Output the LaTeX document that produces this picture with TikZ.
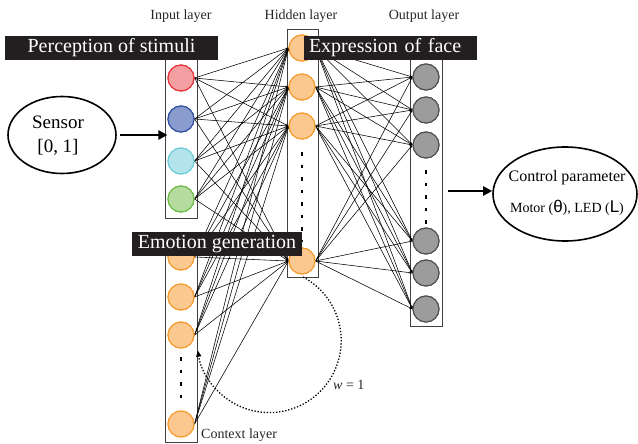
\documentclass[tikz,border=0pt]{standalone}
\usepackage{fontspec}
\setmainfont{Liberation Serif}
\newfontfamily\symsans{Liberation Sans}
\usetikzlibrary{arrows.meta,shapes.geometric}
\definecolor{bannerbg}{HTML}{231F20}
\definecolor{redF}{HTML}{F4A0A3}\definecolor{redD}{HTML}{E53239}
\definecolor{bluF}{HTML}{8A9CCE}\definecolor{bluD}{HTML}{2E50A2}
\definecolor{cyaF}{HTML}{B3E4EB}\definecolor{cyaD}{HTML}{6FCDDA}
\definecolor{greF}{HTML}{B5DC9E}\definecolor{greD}{HTML}{6CBB47}
\definecolor{oraF}{HTML}{FBC990}\definecolor{oraD}{HTML}{F59B2E}
\definecolor{graF}{HTML}{9C9C9C}\definecolor{graD}{HTML}{505050}
\tikzset{
  neuron/.style={circle, minimum size=26pt, inner sep=0pt, line width=1.1pt},
  layerbox/.style={draw=black!75, line width=0.8pt},
  conn/.style={line width=0.55pt, black, -{Stealth[length=3pt,width=2.4pt]}},
  banner/.style={fill=bannerbg, text=white, inner sep=0pt, font=\fontsize{20}{22}\selectfont},
  lbl/.style={text=black!85, font=\fontsize{14}{16}\selectfont, inner sep=0pt},
  vdots/.style={line width=2pt, dash pattern=on 3.5pt off 9pt},
  bigarrow/.style={line width=2.4pt, -{Triangle[length=9pt,width=9pt]}},
  recur/.style={line width=1.3pt, dash pattern=on 1.3pt off 1.8pt, -{Triangle[length=6pt,width=5pt]}}
}
\begin{document}
\begin{tikzpicture}[x=1pt,y=-1pt]
\useasboundingbox (0,0) rectangle (638,444);
% layer boxes
\draw[layerbox] (165,50) rectangle (197,218);
\draw[layerbox] (165,240) rectangle (197,442);
\draw[layerbox] (287,29) rectangle (318,277);
\draw[layerbox] (410,50) rectangle (442,326);
% neurons
\node[neuron, fill=redF, draw=redD] (i1) at (181,78) {};
\node[neuron, fill=bluF, draw=bluD] (i2) at (181,119) {};
\node[neuron, fill=cyaF, draw=cyaD] (i3) at (181,161) {};
\node[neuron, fill=greF, draw=greD] (i4) at (181,199) {};
\foreach \n/\y in {1/257,2/297,3/335,4/424}
  \node[neuron, fill=oraF, draw=oraD] (c\n) at (181,\y) {};
\foreach \n/\y in {1/48,2/87,3/126,4/261}
  \node[neuron, fill=oraF, draw=oraD] (h\n) at (302,\y) {};
\foreach \n/\y in {1/77,2/110,3/145,4/241,5/273,6/309}
  \node[neuron, fill=graF, draw=graD] (o\n) at (426,\y) {};
% connections
\foreach \s in {i1,i2,i3,i4,c1,c2,c3,c4}
  \foreach \t in {h1,h2,h3,h4}
    \draw[conn] (\s.east) -- (\t.west);
\foreach \s in {h1,h2,h3,h4}
  \foreach \t in {o1,o2,o3,o4,o5,o6}
    \draw[conn] (\s.east) -- (\t.west);
% redraw neurons on top
\node[neuron, fill=redF, draw=redD] at (i1) {};
\node[neuron, fill=bluF, draw=bluD] at (i2) {};
\node[neuron, fill=cyaF, draw=cyaD] at (i3) {};
\node[neuron, fill=greF, draw=greD] at (i4) {};
\foreach \n in {c1,c2,c3,c4,h1,h2,h3,h4}
  \node[neuron, fill=oraF, draw=oraD] at (\n) {};
\foreach \n in {o1,o2,o3,o4,o5,o6}
  \node[neuron, fill=graF, draw=graD] at (\n) {};
% vertical dots
\draw[vdots] (302,152) -- (302,242);
\draw[vdots] (426,170) -- (426,228);
\draw[vdots] (181,357) -- (181,407);
% recurrent loop
\coordinate (rs) at (303,277);
\draw[recur] (rs) arc[start angle=-62, end angle=172, radius=72];
\node[lbl, anchor=west] (wl) at (333,385) {\textit{w} = 1};
% banners
\node[banner, minimum width=213pt, minimum height=24pt] (b1) at (111.5,48) {Perception of stimuli};
\node[banner, minimum width=173pt, minimum height=24pt, text width=163pt, align=left] (b2) at (390.5,48) {Expression of face};
\node[banner, minimum width=170pt, minimum height=24pt] (b3) at (217,244) {Emotion generation};
% layer labels
\node[lbl] (li) at (181,16) {Input layer};
\node[lbl] (lh) at (301,16) {Hidden layer};
\node[lbl] (lo) at (424,16) {Output layer};
\node[lbl, anchor=west] (lc) at (201,435) {Context layer};
% sensor
\node[draw, ellipse, line width=1.6pt, minimum width=108pt, minimum height=77pt, inner sep=0pt] (sens) at (62,135) {};
\node[align=center, font=\fontsize{19}{24}\selectfont] (senst) at (58,136) {Sensor\\{}[0, 1]};
\draw[bigarrow] (sens.east) ++(3,0) coordinate (sa) -- (i2.west |- sens.east);
% control
\node[draw, ellipse, line width=1.6pt, minimum width=144pt, minimum height=94pt, inner sep=0pt] (ctrl) at (565,194) {};
\node[font=\fontsize{16}{18}\selectfont] (ct1) at (567,178) {Control parameter};
\node[font=\fontsize{14}{16}\selectfont] (ct2) at (567,208) {Motor ({\symsans\fontsize{17}{17}\selectfont θ}), LED ({\symsans\fontsize{17}{17}\selectfont L})};
\coordinate (ca) at (448,191);
\draw[bigarrow] (ca) -- (ctrl.west |- ca);
\end{tikzpicture}
\end{document}
